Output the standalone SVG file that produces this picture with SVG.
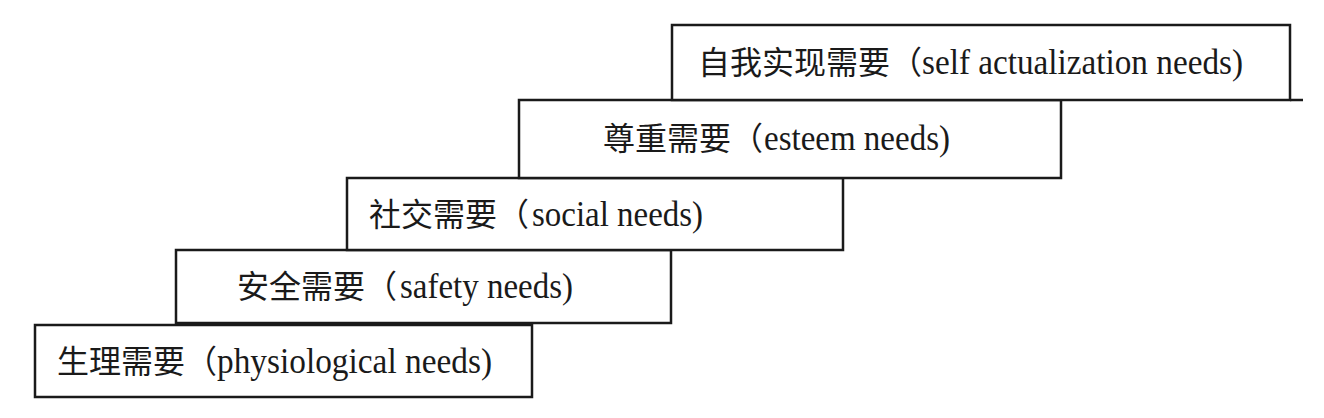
<svg xmlns="http://www.w3.org/2000/svg" width="1324" height="418" viewBox="0 0 1324 418">
<style>
.box{fill:#fff;stroke:#1a1a1a;stroke-width:2.5}
.cj{font-family:"Noto Sans CJK SC","Noto Sans CJK JP",sans-serif;font-size:32px;fill:#1a1a1a}
.la{font-family:"Liberation Serif","Times New Roman",serif;font-size:36px;fill:#1a1a1a}
.ln{stroke:#1a1a1a;stroke-width:2.5;fill:none}
</style>
<rect width="1324" height="418" fill="#fff"/>
<g id="physiological">
<rect class="box" x="35" y="325" width="497" height="72"/>
<text class="cj" x="57" y="373">生理需要（</text>
<text class="la" x="217" y="373" textLength="275" lengthAdjust="spacingAndGlyphs">physiological needs)</text>
</g>
<g id="safety">
<rect class="box" x="176" y="250" width="495" height="73"/>
<text class="cj" x="237" y="298">安全需要（</text>
<text class="la" x="400" y="298" textLength="173" lengthAdjust="spacingAndGlyphs">safety needs)</text>
</g>
<g id="social">
<rect class="box" x="347" y="178" width="496" height="72"/>
<text class="cj" x="369" y="226">社交需要（</text>
<text class="la" x="532" y="226" textLength="171" lengthAdjust="spacingAndGlyphs">social needs)</text>
</g>
<g id="esteem">
<rect class="box" x="519" y="100" width="542" height="78"/>
<text class="cj" x="603" y="150">尊重需要（</text>
<text class="la" x="764" y="150" textLength="186" lengthAdjust="spacingAndGlyphs">esteem needs)</text>
</g>
<g id="self-actualization">
<rect class="box" x="672" y="25" width="618" height="75"/>
<text class="cj" x="698" y="74">自我实现需要（</text>
<text class="la" x="922" y="74" textLength="321" lengthAdjust="spacingAndGlyphs">self actualization needs)</text>
</g>
<g id="connectors">
<line class="ln" x1="1290" y1="100" x2="1303" y2="100"/>
</g>
</svg>
